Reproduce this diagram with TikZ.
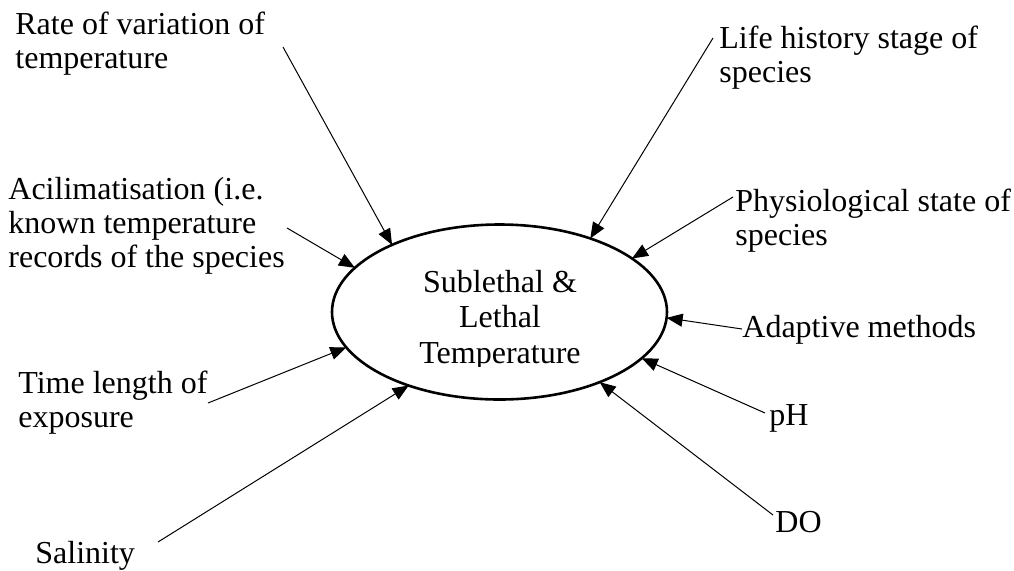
\documentclass[tikz,border=0pt]{standalone}
\usepackage{fontspec}
\setmainfont{Liberation Serif}
\usetikzlibrary{arrows.meta,shapes.geometric}
\newcommand{\fctr}[4]{\node[factor] (#1) at (#2,#3){#4};}

\begin{document}
\begin{tikzpicture}[x=.5pt,y=-.5pt,font=\fontsize{16}{16.8}\selectfont,
  factor/.style={anchor=base west,align=left,inner sep=0pt},
  arr/.style={-{Triangle[length=8pt,width=6.5pt]},line width=.5pt}]
\useasboundingbox (0,0) rectangle (1014,570);
\node[draw,ellipse,line width=1.3pt,minimum width=167.5pt,minimum height=87.5pt,inner sep=0pt,outer sep=0pt] (ell) at (499.5,312){};
\begin{scope}\clip (330,225) rectangle (670,366);
\node[align=center,anchor=base,inner sep=0pt,font=\fontsize{16}{17.75}\selectfont] (temp) at (500,363){Sublethal \&\\Lethal\\Temperature};
\end{scope}
% factors (base = last line)
\fctr{rate}{15}{68}{Rate of variation of\\temperature}
\fctr{accl}{8}{267}{Acilimatisation (i.e.\\known temperature\\records of the species}
\fctr{time}{18}{427}{Time length of\\exposure}
\fctr{sal}{35}{563}{Salinity}
\fctr{life}{719}{82}{Life history stage of\\species}
\fctr{phys}{735}{245}{Physiological state of\\species}
\fctr{adapt}{742}{337}{Adaptive methods}
\fctr{ph}{769}{425}{pH}
\fctr{do}{775}{532}{DO}
% line starts
\coordinate (rate-s) at (283,47);\coordinate (accl-s) at (287,228);\coordinate (time-s) at (208,403);\coordinate (sal-s) at (158,542);
\coordinate (life-s) at (713,38);\coordinate (phys-s) at (733,197);\coordinate (adapt-s) at (742,329);\coordinate (ph-s) at (765,413);\coordinate (do-s) at (773,515);
\draw[arr] (rate-s)--(ell.148.8);\draw[arr] (accl-s)--(ell.163.4);\draw[arr] (time-s)--(ell.193.7);\draw[arr] (sal-s)--(ell.219);
\draw[arr] (life-s)--(ell.39);\draw[arr] (phys-s)--(ell.22.9);\draw[arr] (adapt-s)--(ell.-2.4);\draw[arr] (ph-s)--(ell.-18.3);\draw[arr] (do-s)--(ell.-35.9);
\end{tikzpicture}
\end{document}
